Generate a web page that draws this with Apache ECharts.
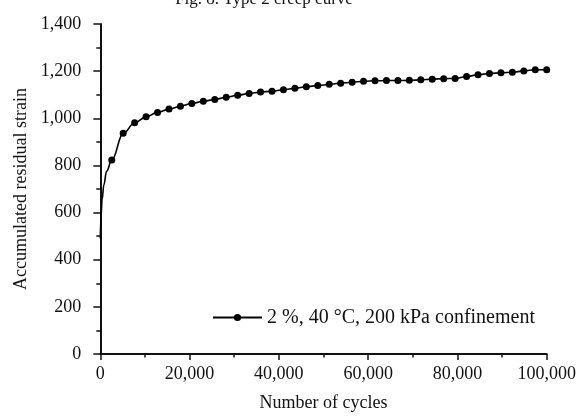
<!DOCTYPE html>
<html>
<head>
<meta charset="utf-8">
<script src="https://cdn.jsdelivr.net/npm/echarts@6/dist/echarts.min.js"></script>
<style>html,body{margin:0;padding:0;background:#fff;}#c{width:582px;height:419px;}</style>
</head>
<body>
<div id="c"></div>
<script>
// Marked data points (cycles, accumulated residual strain)
var cycles = [2564, 5128, 7692, 10256, 12821, 15385, 17949, 20513, 23077, 25641,
  28205, 30769, 33333, 35897, 38462, 41026, 43590, 46154, 48718, 51282,
  53846, 56410, 58974, 61538, 64103, 66667, 69231, 71795, 74359, 76923,
  79487, 82051, 84615, 87179, 89744, 92308, 94872, 97436, 100000];
var strain = [823, 936, 981, 1006, 1025, 1039, 1051, 1063, 1072, 1080,
  1089, 1098, 1105, 1111, 1115, 1121, 1127, 1134, 1139, 1144,
  1149, 1153, 1157, 1159, 1160, 1160, 1161, 1163, 1166, 1168,
  1169, 1177, 1185, 1190, 1193, 1195, 1201, 1206, 1206];
// Unmarked start of the curve
var curveCycles = [0, 150, 400, 800, 1400];
var curveStrain = [490, 580, 655, 718, 775];

var seriesName = '2 %, 40 \u00B0C, 200 kPa confinement';
var titleText = 'Fig. 8. Type 2 creep curve';
var xName = 'Number of cycles';
var yName = 'Accumulated residual strain';

var data = [];
for (var i = 0; i < curveCycles.length; i++) {
  data.push({ value: [curveCycles[i], curveStrain[i]], symbol: 'none' });
}
for (var j = 0; j < cycles.length; j++) {
  data.push({ value: [cycles[j], strain[j]] });
}

function fmt(v) { return Number(v).toLocaleString('en-US'); }

var FONT = '"Liberation Serif", "Times New Roman", serif';
var chart = echarts.init(document.getElementById('c'));
chart.setOption({
  animation: false,
  backgroundColor: '#fff',
  graphic: [{
    type: 'text', x: 264, y: 8,
    style: { text: titleText, font: '17px ' + FONT, fill: '#111', textAlign: 'center', textVerticalAlign: 'bottom' }
  }],
  grid: { left: 100.3, right: 35.3, top: 24, bottom: 65 },
  legend: {
    left: 212, top: 307.5, padding: 0,
    itemWidth: 49, itemHeight: 9,
    textStyle: { fontFamily: FONT, fontSize: 20, color: '#111' },
    data: [seriesName]
  },
  xAxis: {
    type: 'value', min: 0, max: 100000, interval: 20000,
    name: xName, nameLocation: 'middle', nameGap: 40,
    nameTextStyle: { fontFamily: FONT, fontSize: 18, color: '#111' },
    axisLine: { show: true, lineStyle: { color: '#111', width: 2 } },
    axisTick: { show: true, length: 6, lineStyle: { color: '#111', width: 1.5 } },
    minorTick: { show: true, splitNumber: 2, length: 3.5, lineStyle: { color: '#111', width: 1.5 } },
    splitLine: { show: false },
    axisLabel: { formatter: fmt, fontFamily: FONT, fontSize: 18, color: '#111', margin: 11 }
  },
  yAxis: {
    type: 'value', min: 0, max: 1400, interval: 200,
    name: yName, nameLocation: 'middle', nameGap: 66, nameRotate: 90,
    nameTextStyle: { fontFamily: FONT, fontSize: 18, color: '#111' },
    axisLine: { show: true, lineStyle: { color: '#111', width: 2 } },
    axisTick: { show: true, length: 7, lineStyle: { color: '#111', width: 1.5 } },
    minorTick: { show: true, splitNumber: 2, length: 4, lineStyle: { color: '#111', width: 1.5 } },
    splitLine: { show: false },
    axisLabel: { formatter: fmt, fontFamily: FONT, fontSize: 18, color: '#111', margin: 19 }
  },
  series: [{
    name: seriesName,
    type: 'line',
    data: data,
    smooth: 0.4,
    smoothMonotone: 'x',
    symbol: 'circle',
    symbolSize: 7,
    showAllSymbol: true,
    itemStyle: { color: '#000' },
    lineStyle: { color: '#000', width: 1.6 }
  }]
});
</script>
</body>
</html>
